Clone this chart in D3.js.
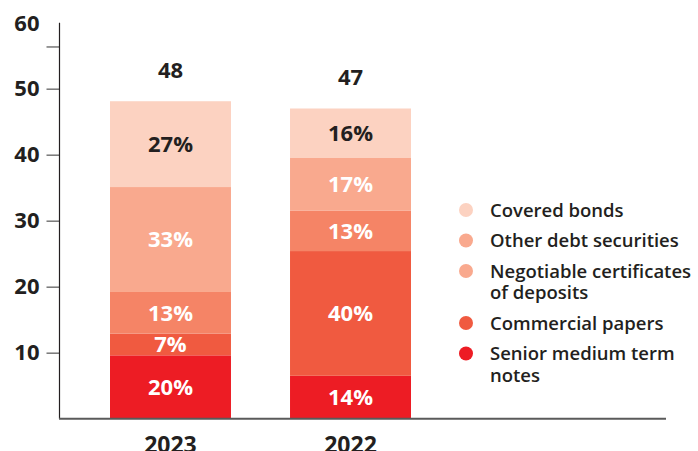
<!DOCTYPE html>
<html>
<head>
<meta charset="utf-8">
<script src="https://cdn.jsdelivr.net/npm/d3@7"></script>
<style>
  body { margin: 0; background: #fff; }
  #chart { width: 698px; height: 451px; }
  text { font-family: "Open Sans", sans-serif; font-weight: 700; fill: #231f20; }
</style>
</head>
<body>
<div id="chart"></div>
<script>
// years on the x axis
const years = ["2023", "2022"];

// stack order, bottom to top
const categories = ["Senior medium term notes", "Commercial papers",
    "Negotiable certificates of deposits", "Other debt securities", "Covered bonds"];

// values per category (one entry per year)
const seniorNotes = [9.6, 6.5];
const commercialPapers = [3.3, 18.9];
const negotiableCDs = [6.3, 6.1];
const otherDebt = [15.9, 8.0];
const coveredBonds = [13.0, 7.5];

// percentage labels shown inside the segments
const seniorPct = ["20%", "14%"];
const commercialPct = ["7%", "40%"];
const negotiablePct = ["13%", "13%"];
const otherPct = ["33%", "17%"];
const coveredPct = ["27%", "16%"];

// totals above the bars
const totals = ["48", "47"];

// y axis
const yTicks = [10, 20, 30, 40, 50, 60];
const strayTick = 56.4;

// legend, top to bottom
const legendItems = [
    ["Covered bonds"],
    ["Other debt securities"],
    ["Negotiable certificates", "of deposits"],
    ["Commercial papers"],
    ["Senior medium term", "notes"]
];

class StackedBarChart {

    constructor(parentElement) {
        this.parentElement = parentElement;

        let series = [seniorNotes, commercialPapers, negotiableCDs, otherDebt, coveredBonds];
        let pcts = [seniorPct, commercialPct, negotiablePct, otherPct, coveredPct];

        // one row per year, keyed by category
        this.data = years.map((y, i) => {
            let row = {year: y};
            categories.forEach((c, j) => { row[c] = series[j][i]; });
            return row;
        });
        this.pctLookup = {};
        categories.forEach((c, j) => { this.pctLookup[c] = pcts[j]; });

        this.colorScale = d3.scaleOrdinal()
            .domain(categories)
            .range(["#ed1c24", "#f05a40", "#f58466", "#f9a98e", "#fcd2c1"]);
        // the legend shows both middle classes in the lighter tone
        this.legendColors = ["#fcd2c1", "#f9a98e", "#f9a98e", "#f05a40", "#ed1c24"];

        this.initVis();
    }

    initVis() {
        let vis = this;

        vis.svg = d3.select("#" + vis.parentElement).append("svg")
            .attr("width", 698)
            .attr("height", 451);

        vis.x = d3.scaleBand()
            .domain(years)
            .range([110, 411])
            .paddingInner(0.328)
            .paddingOuter(0);

        vis.y = d3.scaleLinear()
            .domain([0, 60])
            .range([418.7, 22.7]);

        vis.stackedData = d3.stack().keys(categories)(vis.data);

        vis.updateVis();
    }

    updateVis() {
        let vis = this;

        // layers
        let layers = vis.svg.selectAll(".layer")
            .data(vis.stackedData)
            .enter().append("g")
            .attr("class", "layer")
            .attr("fill", d => vis.colorScale(d.key));

        layers.selectAll("rect")
            .data(d => d)
            .enter().append("rect")
            .attr("x", d => vis.x(d.data.year))
            .attr("width", vis.x.bandwidth())
            .attr("y", d => vis.y(d[1]))
            .attr("height", d => vis.y(d[0]) - vis.y(d[1]));

        // segment labels
        layers.selectAll(".pct")
            .data(d => d.map((e, i) => ({seg: e, key: d.key, i: i})))
            .enter().append("text")
            .attr("class", "pct")
            .attr("x", d => vis.x(d.seg.data.year) + vis.x.bandwidth() / 2)
            .attr("y", d => (vis.y(d.seg[0]) + vis.y(d.seg[1])) / 2)
            .attr("dy", "0.36em")
            .attr("text-anchor", "middle")
            .attr("font-size", "22px")
            .style("fill", d => d.key === "Covered bonds" ? "#231f20" : "#fff")
            .text(d => vis.pctLookup[d.key][d.i]);

        // totals
        vis.svg.selectAll(".total")
            .data(vis.stackedData[vis.stackedData.length - 1])
            .enter().append("text")
            .attr("class", "total")
            .attr("x", d => vis.x(d.data.year) + vis.x.bandwidth() / 2)
            .attr("y", d => vis.y(d[1]) - 31)
            .attr("dy", "0.36em")
            .attr("text-anchor", "middle")
            .attr("font-size", "22px")
            .text((d, i) => totals[i]);

        // y axis
        let yAxis = d3.axisLeft(vis.y)
            .tickValues(yTicks.slice(0, -1).concat([strayTick]))
            .tickSize(13)
            .tickFormat(d => d === strayTick ? "" : d);

        let yg = vis.svg.append("g")
            .attr("class", "y-axis")
            .attr("transform", "translate(59.5,0)")
            .call(yAxis);
        yg.select(".domain").remove();
        yg.selectAll(".tick line").attr("stroke", "#777").attr("stroke-width", 1.5);
        yg.selectAll(".tick text")
            .attr("x", -20)
            .attr("font-size", "22px")
            .attr("font-family", null);

        vis.svg.append("text")
            .attr("x", 39.5)
            .attr("y", vis.y(60))
            .attr("dy", "0.36em")
            .attr("text-anchor", "end")
            .attr("font-size", "22px")
            .text(yTicks[yTicks.length - 1]);

        vis.svg.append("line")
            .attr("x1", 59.5).attr("x2", 59.5)
            .attr("y1", vis.y(60)).attr("y2", vis.y(0))
            .attr("stroke", "#231f20")
            .attr("stroke-width", 1.2);

        // baseline
        vis.svg.append("line")
            .attr("x1", 59).attr("x2", 666)
            .attr("y1", vis.y(0)).attr("y2", vis.y(0))
            .attr("stroke", "#5a5a5a")
            .attr("stroke-width", 2);

        // x labels, cut by the bottom edge as in the source
        vis.svg.selectAll(".year")
            .data(years)
            .enter().append("text")
            .attr("class", "year")
            .attr("x", d => vis.x(d) + vis.x.bandwidth() / 2)
            .attr("y", 453)
            .attr("text-anchor", "middle")
            .attr("font-size", "23px")
            .text(d => d);

        // legend
        let yPos = 210;
        legendItems.forEach((lines, i) => {
            let g = vis.svg.append("g")
                .attr("transform", "translate(0," + yPos + ")");
            g.append("circle")
                .attr("cx", 466)
                .attr("cy", 0)
                .attr("r", 7)
                .attr("fill", vis.legendColors[i]);
            lines.forEach((l, k) => {
                g.append("text")
                    .attr("x", 490)
                    .attr("y", k * 21.5)
                    .attr("dy", "0.36em")
                    .attr("font-size", "18.5px")
                    .style("font-weight", 600)
                    .text(l);
            });
            yPos += 9 + lines.length * 21.5;
        });
    }
}

new StackedBarChart("chart");
</script>
</body>
</html>
